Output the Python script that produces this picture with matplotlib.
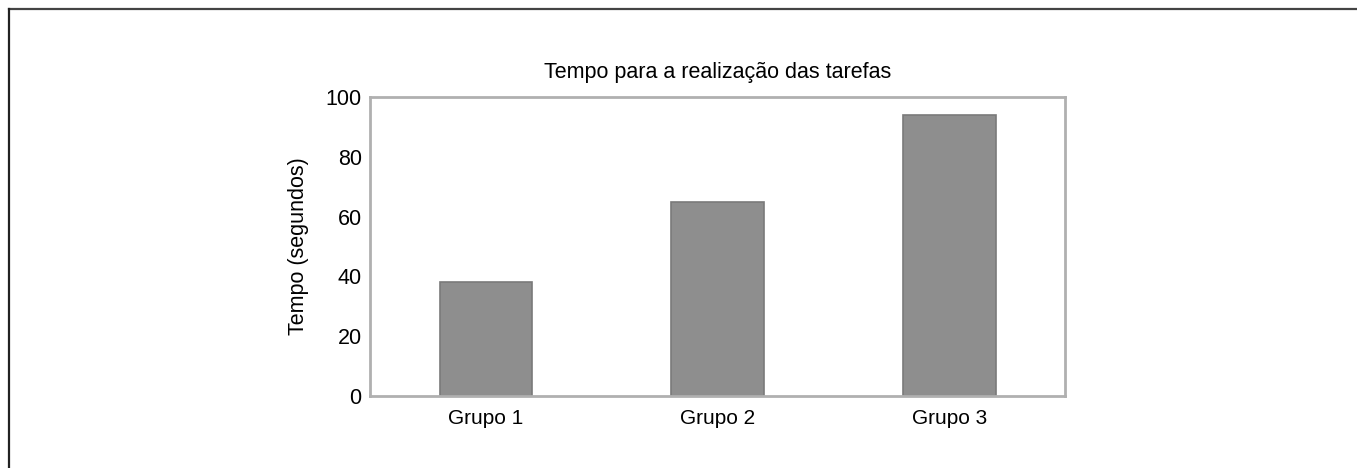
import matplotlib
matplotlib.use("Agg")
import matplotlib.pyplot as plt
from matplotlib.lines import Line2D

categories = ["Grupo 1", "Grupo 2", "Grupo 3"]
values = [38, 65, 94]
yticks = [0, 20, 40, 60, 80, 100]

plt.rcParams['font.family'] = ['Liberation Sans', 'DejaVu Sans']

W, H = 1357, 468
fig = plt.figure(figsize=(W/100, H/100), dpi=100)
ax = fig.add_axes([370/W, 1-396/H, (1065-370)/W, (396-97)/H])

x = range(len(categories))
ax.bar(x, values, width=0.4, color="#8e8e8e", edgecolor="#7a7a7a", linewidth=1.2)
ax.set_xlim(-0.5, 2.5)
ax.set_ylim(0, 100)
ax.set_xticks(list(x))
ax.set_xticklabels(categories, fontsize=15)
ax.set_yticks(yticks)
ax.set_yticklabels([str(t) for t in yticks], fontsize=15.5)
ax.tick_params(length=0, pad=6)
ax.tick_params(axis='x', pad=9)
for s in ax.spines.values():
    s.set_color("#b0b0b0")
    s.set_linewidth(2)
ax.set_title("Tempo para a realização das tarefas", fontsize=15.5, pad=14)
ax.set_ylabel("Tempo (segundos)", fontsize=15.5, labelpad=12)

# outer frame (top and left)
fig.add_artist(Line2D([9/W, 1], [1-9/H, 1-9/H], transform=fig.transFigure, color="#444444", linewidth=1.6))
fig.add_artist(Line2D([9/W, 9/W], [0, 1-9/H], transform=fig.transFigure, color="#222222", linewidth=1.6))

fig.savefig("out.png", dpi=100)
